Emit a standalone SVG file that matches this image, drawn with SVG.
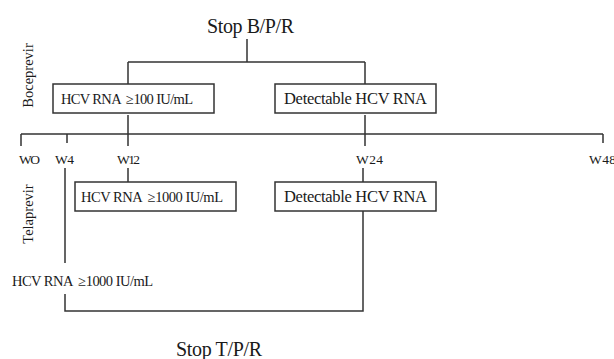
<svg xmlns="http://www.w3.org/2000/svg" width="614" height="359" viewBox="0 0 614 359">
<style>
text{font-family:"Liberation Serif","Times New Roman",serif;fill:#1a1a1a}
.ln{fill:none;stroke:#333;stroke-width:1.5}
.box{fill:#fff;stroke:#333;stroke-width:1.5}
.stop{font-size:20px}
.wk{font-size:13.5px}
.lab{font-size:14.5px}
</style>
<rect width="614" height="359" fill="#fff"/>
<g id="connectors">
<path class="ln" d="M247,39V62M128,62H365M128,62V84M365,62V84"/>
<path class="ln" d="M21,134H603M21,134V146M67,134V143M128,115V146M365,115V146M603,134V143"/>
<path class="ln" d="M65,168V263M65,294V311H363V211M128,168V182M363,168V182"/>
</g>
<g id="stop-bpr"><text class="stop" x="207" y="33" textLength="87">Stop B/P/R</text></g>
<g id="boceprevir"><text class="lab" text-anchor="middle" transform="translate(32.5,75.5) rotate(-90)">Boceprevir</text></g>
<g id="telaprevir"><text class="lab" text-anchor="middle" transform="translate(33,214) rotate(-90)">Telaprevir</text></g>
<g id="box-b1"><rect class="box" x="53" y="84" width="161" height="29"/><text x="61" y="104" font-size="14.5" textLength="132">HCV RNA &#160;≥100 IU/mL</text></g>
<g id="box-b2"><rect class="box" x="275" y="84" width="161" height="29"/><text x="284" y="104" font-size="16.5" textLength="143">Detectable HCV RNA</text></g>
<g id="weeks">
<text class="wk" x="19" y="164" textLength="21">WO</text>
<text class="wk" x="55" y="164" textLength="19">W4</text>
<text class="wk" x="117" y="164" textLength="23">W12</text>
<text class="wk" x="356" y="164" textLength="27">W24</text>
<text class="wk" x="589" y="164" textLength="27">W48</text>
</g>
<g id="box-t1"><rect class="box" x="75" y="182" width="161" height="29"/><text x="81" y="202" font-size="14.5" textLength="142">HCV RNA &#160;≥1000 IU/mL</text></g>
<g id="box-t2"><rect class="box" x="275" y="182" width="161" height="29"/><text x="284" y="202" font-size="16.5" textLength="143">Detectable HCV RNA</text></g>
<g id="t-w4"><text x="12" y="286" font-size="14.5" textLength="141">HCV RNA &#160;≥1000 IU/mL</text></g>
<g id="stop-tpr"><text class="stop" x="176" y="356" textLength="86">Stop T/P/R</text></g>
</svg>
